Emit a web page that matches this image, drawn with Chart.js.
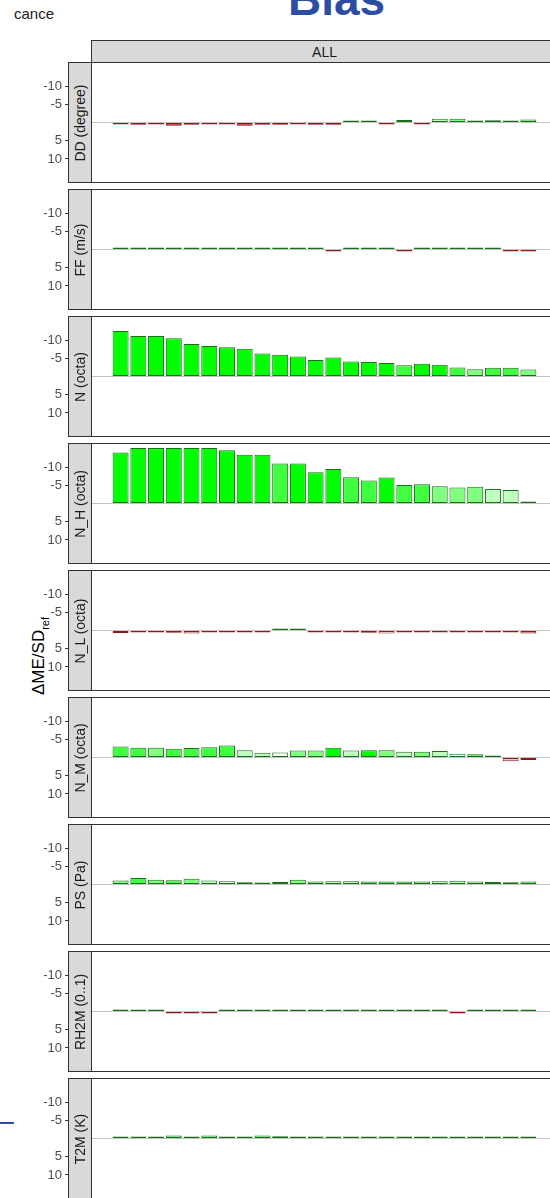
<!DOCTYPE html>
<html>
<head>
<meta charset="utf-8">
<script src="https://cdn.jsdelivr.net/npm/chart.js@4.4.1/dist/chart.umd.min.js"></script>
<style>
  body { margin: 0; width: 550px; height: 1198px; overflow: hidden; position: relative; background: #fff;
         font-family: "Liberation Sans", Arial, sans-serif; }
  canvas { position: absolute; left: 0; }
  .strip { position: absolute; background: #d9d9d9; border: 1px solid #333; box-sizing: border-box; z-index: 2; }
  .strip span { position: absolute; left: 50%; top: 50%; white-space: nowrap; font-size: 14px; color: #1a1a1a; }
  .side span { transform: translate(-50%, -50%) rotate(-90deg); }
  .top span { transform: translate(-50%, -50%); }
  #title { position: absolute; left: 288px; top: -28px; font-size: 46px; font-weight: bold; color: #2b4ea2; }
  #legendCut { position: absolute; left: 14px; top: 5px; font-size: 15px; color: #222; }
  #ylab { position: absolute; left: 40px; top: 656px; transform: translate(-50%, -50%) rotate(-90deg);
          white-space: nowrap; font-size: 17px; color: #000; }
  #ylab sub { font-size: 11px; }
  #blueBar { position: absolute; left: 0; top: 1122px; width: 14px; height: 2px; background: #2b4ea2; }
</style>
</head>
<body>
<div id="title">Bias</div>
<div id="legendCut">cance</div>
<div id="ylab">ΔME/SD<sub>ref</sub></div>
<div id="blueBar"></div>

<script>
// facet labels
const panelNames = ['DD (degree)', 'FF (m/s)', 'N (octa)', 'N_H (octa)', 'N_L (octa)',
                    'N_M (octa)', 'PS (Pa)', 'RH2M (0..1)', 'T2M (K)'];
const columnName = 'ALL';
const xPos = [1, 2, 3, 4, 5, 6, 7, 8, 9, 10, 11, 12, 13, 14, 15, 16, 17, 18, 19, 20, 21, 22, 23, 24];
const yTicks = [-10, -5, 0, 5, 10];

// bias change per panel (negative = bar goes up, axis is reversed)
const ddVals  = [0.4, 0.6, 0.3, 0.9, 0.6, 0.3, 0.3, 0.9, 0.6, 0.6, 0.3, 0.6, 0.6, -0.4, -0.5, 0.4, -0.7, 0.4, -1.0, -1.0, -0.3, -0.6, -0.3, -0.8];
const ffVals  = [-0.2, -0.2, -0.3, -0.4, -0.4, -0.2, -0.3, -0.4, -0.3, -0.2, -0.2, -0.2, 0.4, -0.2, -0.2, -0.2, 0.3, -0.2, -0.2, -0.2, -0.2, -0.2, 0.2, 0.5];
const nVals   = [-12.5, -11.1, -11.1, -10.5, -8.9, -8.4, -8.0, -7.6, -6.3, -6.0, -5.5, -4.5, -5.2, -4.1, -4.0, -3.7, -3.1, -3.5, -3.2, -2.5, -2.0, -2.4, -2.4, -1.9];
const nhVals  = [-14.0, -15.2, -15.2, -15.2, -15.2, -15.2, -14.6, -13.4, -13.4, -11.0, -11.0, -8.6, -9.5, -7.2, -6.3, -7.1, -5.1, -5.3, -4.7, -4.4, -4.6, -4.0, -3.7, -0.4];
const nlVals  = [0.7, 0.5, 0.5, 0.6, 0.8, 0.5, 0.5, 0.2, 0.3, -0.4, -0.3, 0.1, 0.4, 0.4, 0.6, 0.8, 0.4, 0.5, 0.5, 0.5, 0.4, 0.5, 0.3, 0.8];
const nmVals  = [-3.0, -2.7, -2.7, -2.4, -2.6, -2.8, -3.3, -2.0, -1.3, -1.4, -1.9, -1.9, -2.7, -1.9, -2.0, -2.0, -1.6, -1.6, -1.8, -1.0, -0.9, -0.5, 1.0, 0.7];
const psVals  = [-1.1, -1.8, -1.3, -1.2, -1.6, -1.1, -0.9, -0.6, -0.4, -0.7, -1.3, -0.8, -0.9, -0.9, -0.8, -0.8, -0.8, -0.8, -0.9, -1.0, -0.8, -0.7, -0.6, -0.8];
const rhVals  = [-0.2, -0.2, -0.1, 0.1, 0.1, 0.1, -0.2, -0.5, -0.2, -0.2, -0.2, -0.1, -0.2, -0.2, -0.2, -0.2, -0.1, -0.2, -0.1, 0.1, -0.2, -0.2, -0.4, -0.4];
const t2mVals = [-0.5, -0.5, -0.5, -0.8, -0.5, -0.8, -0.5, -0.5, -0.8, -0.6, -0.5, -0.4, -0.3, -0.5, -0.3, -0.5, -0.5, -0.5, -0.5, -0.4, -0.3, -0.2, -0.2, -0.4];

// significance level 0..4 -> fill opacity
const ddSig  = [4, 4, 4, 4, 4, 4, 4, 4, 4, 4, 1, 4, 4, 4, 4, 4, 4, 4, 1, 2, 4, 4, 4, 2];
const ffSig  = [4, 4, 4, 4, 4, 4, 4, 4, 4, 4, 4, 4, 4, 4, 4, 4, 4, 4, 4, 4, 4, 4, 4, 4];
const nSig   = [4, 4, 4, 4, 4, 4, 4, 4, 4, 4, 4, 4, 4, 4, 4, 4, 3, 4, 4, 3, 2, 3, 3, 2];
const nhSig  = [4, 4, 4, 4, 4, 4, 4, 4, 4, 3, 4, 4, 4, 3, 3, 4, 3, 3, 2, 2, 2, 1, 1, 4];
const nlSig  = [1, 4, 4, 3, 1, 3, 4, 0, 4, 4, 2, 4, 4, 4, 3, 0, 4, 1, 1, 1, 4, 4, 4, 2];
const nmSig  = [3, 3, 2, 3, 3, 3, 3, 1, 1, 0, 2, 2, 4, 1, 4, 2, 1, 2, 1, 0, 3, 4, 1, 2];
const psSig  = [2, 3, 2, 3, 2, 1, 0, 4, 4, 1, 2, 2, 1, 1, 3, 3, 3, 2, 1, 1, 1, 3, 1, 2];
const rhSig  = [4, 4, 1, 1, 1, 1, 4, 2, 4, 4, 4, 1, 4, 4, 4, 4, 1, 4, 1, 1, 4, 4, 3, 3];
const t2mSig = [4, 4, 4, 2, 4, 2, 4, 4, 2, 3, 4, 4, 4, 2, 4, 4, 4, 4, 4, 4, 4, 4, 4, 4];

const allVals = [ddVals, ffVals, nVals, nhVals, nlVals, nmVals, psVals, rhVals, t2mVals];
const allSig  = [ddSig, ffSig, nSig, nhSig, nlSig, nmSig, psSig, rhSig, t2mSig];

const greenLine = '#1a6e1a';
const redLine = '#8b1a1a';

// green / firebrick faded towards white by significance
function fillColor(v, level) {
    const a = level / 4;
    if (v < 0) {
        const k = Math.round(255 - 255 * a);
        return `rgb(${k},255,${k})`;
    }
    const g = Math.round(255 - (255 - 34) * a);
    const r = Math.round(255 - (255 - 178) * a);
    return `rgb(${r},${g},${g})`;
}

const panelTop0 = 62, panelStep = 127, panelH = 121;
const plotLeft = 91, plotRight = 558, canvasW = 575;

// dark frame round each panel
const panelFrame = {
    id: 'panelFrame',
    afterDraw(chart) {
        const { ctx, chartArea: a } = chart;
        ctx.save();
        ctx.strokeStyle = '#333';
        ctx.lineWidth = 1;
        ctx.strokeRect(a.left + 0.5, a.top + 0.5, a.right - a.left - 1, a.bottom - a.top - 1);
        ctx.restore();
    }
};

function addStrip(cls, left, top, w, h, text) {
    const d = document.createElement('div');
    d.className = 'strip ' + cls;
    Object.assign(d.style, { left: left + 'px', top: top + 'px', width: w + 'px', height: h + 'px' });
    const s = document.createElement('span');
    s.textContent = text;
    d.appendChild(s);
    document.body.appendChild(d);
}

addStrip('top', plotLeft, 40, plotRight - plotLeft, 23, columnName);

panelNames.forEach(function(name, idx) {
    const top = panelTop0 + idx * panelStep;
    const cv = document.createElement('canvas');
    cv.width = canvasW;
    cv.height = panelH + 8;
    cv.style.top = (top - 4) + 'px';
    document.body.appendChild(cv);

    const vals = allVals[idx], sig = allSig[idx];

    new Chart(cv.getContext('2d'), {
        type: 'bar',
        data: {
            datasets: [{
                data: vals.map((v, i) => ({ x: xPos[i], y: v })),
                backgroundColor: vals.map((v, i) => fillColor(v, sig[i])),
                borderColor: vals.map(v => v < 0 ? greenLine : redLine),
                borderWidth: 1,
                borderSkipped: false,
                minBarLength: 2,
                barPercentage: 0.9,
                categoryPercentage: 1
            }]
        },
        options: {
            responsive: false,
            animation: false,
            layout: { padding: { top: 4, bottom: 4, left: 0, right: canvasW - plotRight } },
            plugins: { legend: { display: false }, tooltip: { enabled: false } },
            scales: {
                x: { type: 'linear', min: -0.67, max: 25.67, offset: false, display: false },
                y: {
                    reverse: true,
                    min: -16.6,
                    max: 16.6,
                    afterBuildTicks: s => { s.ticks = yTicks.map(v => ({ value: v })); },
                    afterFit: s => { s.width = plotLeft; s.paddingTop = 0; s.paddingBottom = 0; },
                    ticks: {
                        callback: v => v === 0 ? '' : String(v),
                        color: '#4d4d4d',
                        font: { size: 13, family: '"Liberation Sans", Arial, sans-serif' },
                        padding: 3
                    },
                    grid: {
                        color: c => (c.tick && c.tick.value === 0) ? '#c4c4c4' : 'rgba(0,0,0,0)',
                        tickColor: c => (c.tick && c.tick.value === 0) ? 'rgba(0,0,0,0)' : '#333',
                        tickLength: 26
                    },
                    border: { display: false }
                }
            }
        },
        plugins: [panelFrame]
    });

    addStrip('side', 68, top, plotLeft - 68 + 1, panelH, name);
});
</script>
</body>
</html>
